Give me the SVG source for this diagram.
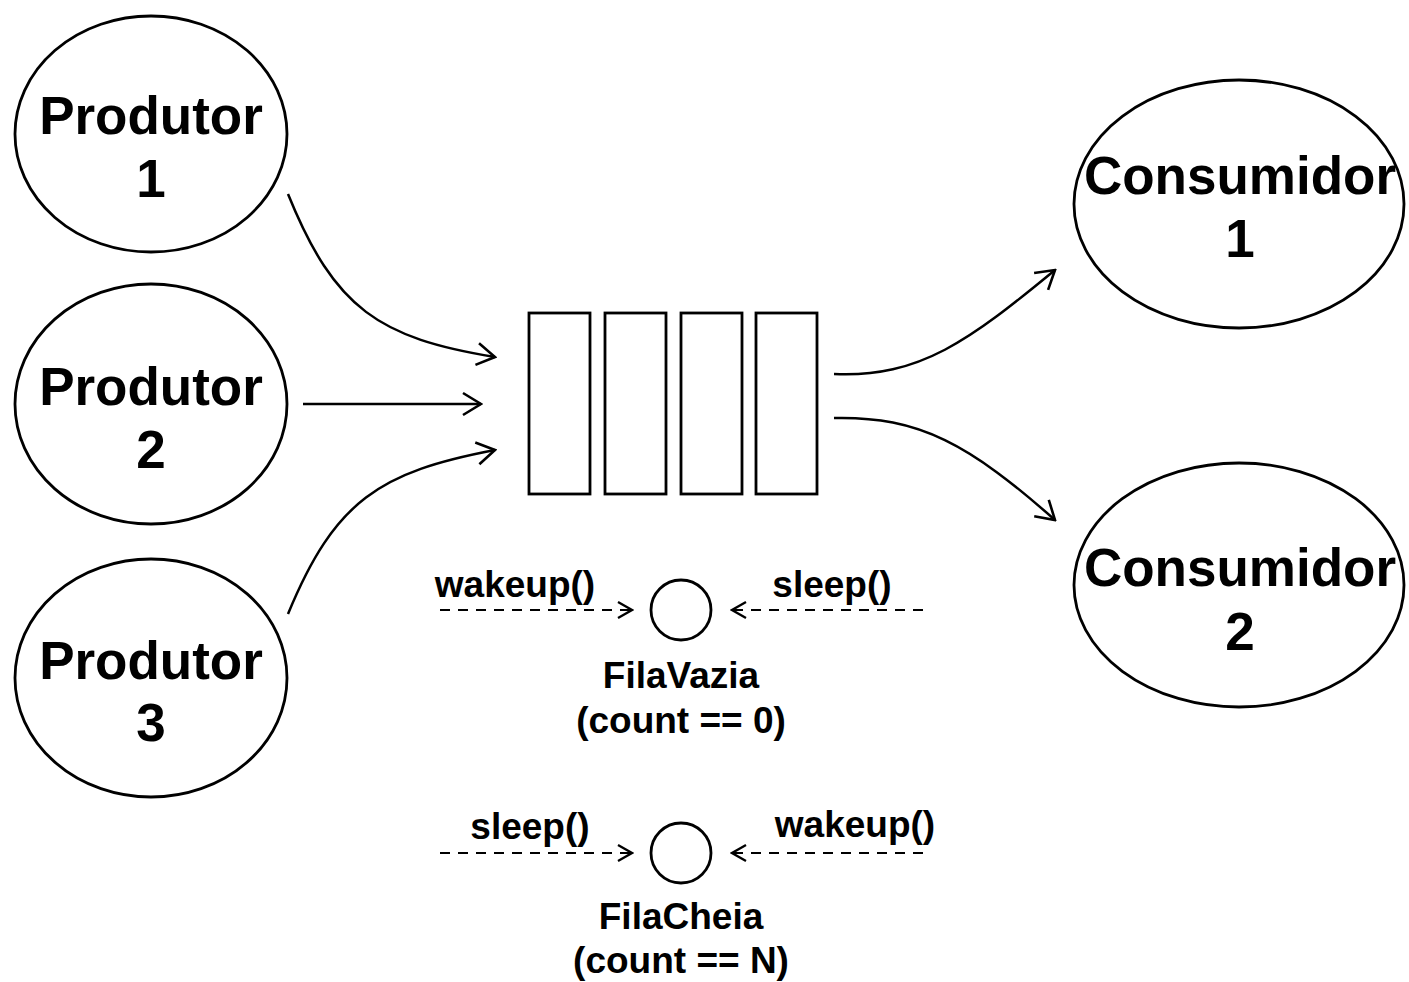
<svg xmlns="http://www.w3.org/2000/svg" width="1409" height="982" viewBox="0 0 1409 982">
<style>
.node{fill:#fff;stroke:#000;stroke-width:2.8}
.big{font-family:"Liberation Sans",Arial,sans-serif;font-weight:bold;font-size:53px;text-anchor:middle;fill:#000}
.lbl{font-family:"Liberation Sans",Arial,sans-serif;font-weight:bold;font-size:37px;text-anchor:middle;fill:#000}
.edge{fill:none;stroke:#000;stroke-width:2.5}
.dash{fill:none;stroke:#000;stroke-width:2.2;stroke-dasharray:10,8}
</style>
<defs>
<marker id="ah" viewBox="0 0 22 26" refX="20" refY="13" markerWidth="22" markerHeight="26" markerUnits="userSpaceOnUse" orient="auto">
<path d="M2,2 L20,13 L2,24" fill="none" stroke="#000" stroke-width="2.6"/>
</marker>
<marker id="ahs" viewBox="0 0 18 22" refX="16" refY="11" markerWidth="18" markerHeight="22" markerUnits="userSpaceOnUse" orient="auto">
<path d="M2,3 L16,11 L2,19" fill="none" stroke="#000" stroke-width="2.3"/>
</marker>
</defs>
<g id="produtor1"><ellipse class="node" cx="151" cy="134" rx="136" ry="118"/><text class="big" x="151" y="134">Produtor</text><text class="big" x="151" y="197">1</text></g>
<g id="produtor2"><ellipse class="node" cx="151" cy="404" rx="136" ry="120"/><text class="big" x="151" y="405">Produtor</text><text class="big" x="151" y="468">2</text></g>
<g id="produtor3"><ellipse class="node" cx="151" cy="678" rx="136" ry="119"/><text class="big" x="151" y="679">Produtor</text><text class="big" x="151" y="741">3</text></g>
<g id="consumidor1"><ellipse class="node" cx="1239" cy="204" rx="165" ry="124"/><text class="big" x="1240" y="194">Consumidor</text><text class="big" x="1240" y="257">1</text></g>
<g id="consumidor2"><ellipse class="node" cx="1239" cy="585" rx="165" ry="122"/><text class="big" x="1240" y="586">Consumidor</text><text class="big" x="1240" y="650">2</text></g>
<g id="fila">
<rect class="node" x="529" y="313" width="61" height="181"/>
<rect class="node" x="605" y="313" width="61" height="181"/>
<rect class="node" x="681" y="313" width="61" height="181"/>
<rect class="node" x="756" y="313" width="61" height="181"/>
</g>
<g id="filaVazia"><circle class="node" cx="681" cy="610" r="30"/><text class="lbl" x="681" y="688">FilaVazia</text><text class="lbl" x="681" y="733">(count == 0)</text></g>
<g id="filaCheia"><circle class="node" cx="681" cy="853" r="30"/><text class="lbl" x="681" y="929">FilaCheia</text><text class="lbl" x="681" y="973">(count == N)</text></g>
<g id="connectors">
<path class="edge" d="M288,194 C335,310 380,338 495,357" marker-end="url(#ah)"/>
<path class="edge" d="M303,404 L481,404" marker-end="url(#ah)"/>
<path class="edge" d="M288,614 C335,500 380,472 495,450" marker-end="url(#ah)"/>
<path class="edge" d="M834,374 C920,378 970,340 1055,270" marker-end="url(#ah)"/>
<path class="edge" d="M834,418 C920,416 970,445 1055,520" marker-end="url(#ah)"/>
<path class="dash" d="M440,610 L632,610" marker-end="url(#ahs)"/>
<path class="dash" d="M923,610 L732,610" marker-end="url(#ahs)"/>
<path class="dash" d="M440,853 L632,853" marker-end="url(#ahs)"/>
<path class="dash" d="M923,853 L732,853" marker-end="url(#ahs)"/>
<text class="lbl" x="515" y="597">wakeup()</text>
<text class="lbl" x="832" y="597">sleep()</text>
<text class="lbl" x="530" y="839">sleep()</text>
<text class="lbl" x="855" y="837">wakeup()</text>
</g>
</svg>
